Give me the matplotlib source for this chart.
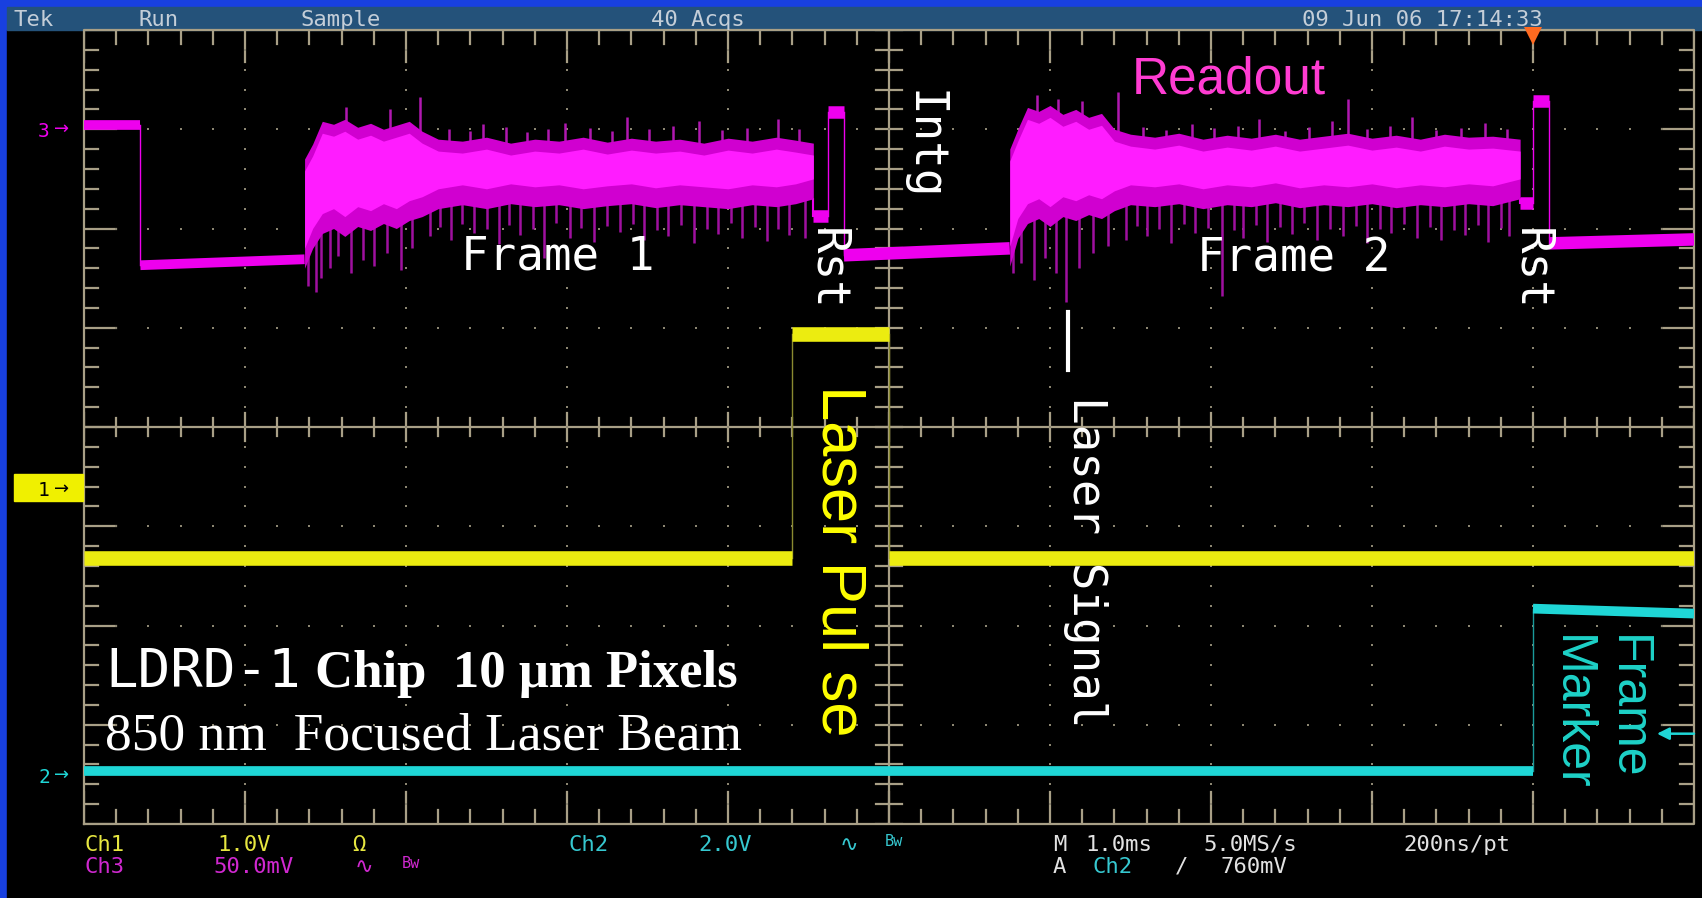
import matplotlib
matplotlib.use('Agg')
import matplotlib.pyplot as plt
from matplotlib.patches import Rectangle
from matplotlib.lines import Line2D

W, H = 1702, 898

# ---------------------------------------------------------------------------
# Trace data, in graticule divisions (x: 0..10, y: -4..4)

# Ch1 (yellow) - laser pulse
ch1_t = [0.0, 4.40, 4.40, 5.00, 5.00, 10.0]
ch1_v = [-1.32, -1.32, 0.94, 0.94, -1.32, -1.32]

# Ch2 (cyan) - frame marker
ch2_t = [0.0, 9.00, 9.00, 10.0]
ch2_v = [-3.47, -3.47, -1.83, -1.88]

# Ch3 (magenta) - readout, flat pieces
ch3_a_t = [0.0, 0.35, 0.35, 1.37]
ch3_a_v = [3.04, 3.04, 1.63, 1.69]
ch3_b_t = [4.53, 4.62, 4.62, 4.72, 4.72, 5.75]
ch3_b_v = [2.13, 2.13, 3.17, 3.17, 1.73, 1.80]
ch3_c_t = [8.92, 9.00, 9.00, 9.10, 9.10, 10.0]
ch3_c_v = [2.26, 2.26, 3.28, 3.28, 1.85, 1.89]

# Ch3 noisy readout band, frame 1 (envelope of 40 acquisitions)
band1_x = [1.37, 1.42, 1.48, 1.55, 1.62, 1.70, 1.78, 1.86, 1.94, 2.02, 2.10, 2.20, 2.35, 2.50,
           2.65, 2.80, 2.95, 3.10, 3.25, 3.40, 3.55, 3.70, 3.85, 4.00, 4.15, 4.30, 4.42, 4.53]
band1_hi = [2.70, 2.85, 3.08, 3.05, 3.10, 3.02, 3.06, 3.00, 3.04, 3.08, 2.98, 2.90, 2.88, 2.92,
            2.86, 2.90, 2.88, 2.92, 2.87, 2.91, 2.88, 2.90, 2.86, 2.91, 2.88, 2.92, 2.89, 2.86]
band1_lo = [1.60, 1.80, 1.95, 2.00, 1.92, 2.02, 1.98, 2.05, 2.00, 2.08, 2.12, 2.20, 2.24, 2.20,
            2.25, 2.22, 2.24, 2.20, 2.23, 2.25, 2.21, 2.24, 2.22, 2.20, 2.24, 2.22, 2.25, 2.30]
b1_dn_x = [1.39, 1.44, 1.47, 1.53, 1.58, 1.66, 1.73, 1.80, 1.88, 1.97, 2.04, 2.15, 2.28, 2.42,
           2.58, 2.71, 2.86, 3.02, 3.17, 3.33, 3.48, 3.63, 3.79, 3.94, 4.09, 4.24, 4.38, 4.48,
           2.21, 2.35, 2.50, 2.64, 2.79, 2.93, 3.09, 3.25, 3.41, 3.56, 3.71, 3.87, 4.02, 4.17, 4.31]
b1_dn_y = [1.42, 1.36, 1.50, 1.60, 1.72, 1.55, 1.68, 1.62, 1.75, 1.58, 1.80, 1.92, 1.88, 1.95,
           1.84, 1.93, 1.70, 1.90, 1.86, 1.96, 1.88, 1.92, 1.85, 1.94, 1.90, 1.87, 1.93, 1.90,
           2.02, 2.05, 1.99, 2.04, 2.00, 2.06, 2.01, 2.03, 2.05, 1.98, 2.04, 2.00, 2.06, 2.02, 2.00]
b1_up_x = [1.63, 1.90, 2.09, 2.48, 2.99, 3.37, 3.82, 4.31,
           2.27, 2.40, 2.62, 2.75, 2.88, 3.14, 3.28, 3.51, 3.66, 3.96, 4.12, 4.44]
b1_up_y = [3.22, 3.20, 3.32, 3.05, 3.06, 3.12, 3.08, 3.10,
           3.00, 2.98, 3.02, 2.97, 3.00, 3.01, 2.98, 3.00, 3.03, 2.99, 3.01, 3.00]

# Ch3 noisy readout band, frame 2
band2_x = [5.75, 5.80, 5.86, 5.93, 6.00, 6.08, 6.16, 6.24, 6.32, 6.40, 6.50, 6.65, 6.80, 6.95,
           7.10, 7.25, 7.40, 7.55, 7.70, 7.85, 8.00, 8.15, 8.30, 8.45, 8.60, 8.75, 8.92]
band2_hi = [2.80, 3.00, 3.22, 3.18, 3.24, 3.15, 3.20, 3.12, 3.16, 3.00, 2.95, 2.92, 2.96, 2.90,
            2.94, 2.91, 2.95, 2.90, 2.93, 2.96, 2.91, 2.94, 2.90, 2.95, 2.92, 2.93, 2.90]
band2_lo = [1.62, 1.90, 2.05, 2.10, 2.02, 2.12, 2.08, 2.14, 2.10, 2.18, 2.24, 2.22, 2.25, 2.20,
            2.24, 2.22, 2.26, 2.21, 2.24, 2.22, 2.25, 2.21, 2.24, 2.22, 2.25, 2.23, 2.30]
b2_dn_x = [5.77, 5.82, 5.90, 5.97, 6.04, 6.10, 6.18, 6.27, 6.36, 6.47, 6.60, 6.75, 6.90,
           7.07, 7.20, 7.35, 7.50, 7.66, 7.82, 7.97, 8.12, 8.28, 8.43, 8.58, 8.72, 8.85,
           6.54, 6.68, 6.83, 6.98, 7.14, 7.28, 7.43, 7.58, 7.74, 7.90, 8.05, 8.20, 8.36, 8.51, 8.66, 8.80]
b2_dn_y = [1.55, 1.65, 1.48, 1.70, 1.55, 1.26, 1.60, 1.75, 1.82, 1.88, 1.92, 1.85, 1.95,
           1.32, 1.90, 1.86, 1.94, 1.88, 1.92, 1.85, 1.95, 1.90, 1.88, 1.93, 1.86, 1.92,
           2.03, 2.00, 2.05, 2.01, 1.98, 2.04, 2.02, 2.06, 1.99, 2.03, 2.00, 2.05, 2.02, 1.98, 2.04, 2.01]
b2_up_x = [5.92, 6.05, 6.20, 6.42, 6.88, 7.30, 7.75, 7.85, 8.25, 8.70,
           6.58, 6.72, 7.02, 7.17, 7.46, 7.61, 7.97, 8.11, 8.40, 8.55, 8.84]
b2_up_y = [3.35, 3.30, 3.28, 3.38, 3.05, 3.10, 3.08, 3.30, 3.12, 3.06,
           3.02, 2.99, 3.01, 3.03, 2.98, 3.02, 3.00, 3.03, 2.99, 3.01, 3.00]

trigger_t = 9.0
trigger_level = -3.09

# status line texts
top_labels = ['Tek', 'Run', 'Sample', '40 Acqs', '09 Jun 06 17:14:33']
row1 = [('Ch1', 'y'), ('1.0V', 'y'), ('\u03a9', 'y'), ('Ch2', 'c'), ('2.0V', 'c'), ('\u223f', 'c'),
        ('Bw', 'c'), ('M', 'w'), ('1.0ms', 'w'), ('5.0MS/s', 'w'), ('200ns/pt', 'w')]
row2 = [('Ch3', 'm'), ('50.0mV', 'm'), ('\u223f', 'm'), ('Bw', 'm'), ('A', 'w'), ('Ch2', 'c'),
        ('/', 'w'), ('760mV', 'w')]

#--------------------------------------------------------------------------------------------------------

GRAT = '#a89f86'
YEL = '#ecec10'
CYA = '#1fd6d6'
MAG = '#ee00ee'
STAT = {'y': '#e6e640', 'c': '#36c8d0', 'm': '#d028d0', 'w': '#e2e2e2'}
MONO = ['DejaVu Sans Mono', 'DejaVu Sans', 'Noto Sans']

fig = plt.figure(figsize=(W / 100, H / 100), dpi=100)
fig.patch.set_facecolor('#1840e0')


def fx(x):
    return x / W


def fy(y):
    return 1 - y / H


# black screen and grey-blue status bar
fig.add_artist(Rectangle((fx(7), 0), 1, fy(30), transform=fig.transFigure,
                         color='black', zorder=-10))
fig.add_artist(Rectangle((fx(7), fy(30)), 1, 23 / H, transform=fig.transFigure,
                         color='#24527a', zorder=-10))

ax = fig.add_axes([fx(84), fy(824), fx(1694) - fx(84), fy(30) - fy(824)])
ax.set_xlim(0, 10)
ax.set_ylim(-4, 4)
ax.axis('off')

# graticule --------------------------------------------------------------
ax.plot([0, 10, 10, 0, 0], [-4, -4, 4, 4, -4], color=GRAT, lw=1.6, zorder=1, clip_on=False)
ax.axvline(5, color=GRAT, lw=1.6, zorder=1)
ax.axhline(0, color=GRAT, lw=1.6, zorder=1)
for i in range(51):
    x = i * 0.2
    ln = 0.32 if i % 5 == 0 else 0.14
    ax.plot([x, x], [4, 4 - ln], color=GRAT, lw=1.6, zorder=1)
    ax.plot([x, x], [-4, -4 + ln], color=GRAT, lw=1.6, zorder=1)
    c = 0.14 if i % 5 == 0 else 0.09
    ax.plot([x, x], [-c, c], color=GRAT, lw=1.6, zorder=1)
for j in range(41):
    y = -4 + j * 0.2
    ln = 0.2 if j % 5 == 0 else 0.09
    ax.plot([0, ln], [y, y], color=GRAT, lw=1.6, zorder=1)
    ax.plot([10, 10 - ln], [y, y], color=GRAT, lw=1.6, zorder=1)
    ax.plot([5 - 0.08, 5 + 0.08], [y, y], color=GRAT, lw=1.6, zorder=1)
dots_x, dots_y = [], []
for k in range(1, 10):
    if k == 5:
        continue
    for j in range(1, 40):
        dots_x.append(k)
        dots_y.append(-4 + j * 0.2)
for k in range(-3, 4):
    if k == 0:
        continue
    for i in range(1, 50):
        dots_x.append(i * 0.2)
        dots_y.append(k)
ax.plot(dots_x, dots_y, ls='none', marker='s', ms=2.0, color='#8c8672', mew=0, zorder=1)


# traces -----------------------------------------------------------------
def step_trace(t, v, color, lw, edge_lw=1.0, edge_color=None):
    for i in range(len(t) - 1):
        if t[i + 1] > t[i]:
            ax.plot(t[i:i + 2], v[i:i + 2], color=color, lw=lw, solid_capstyle='butt', zorder=3)
        else:
            ax.plot(t[i:i + 2], v[i:i + 2], color=edge_color or color, lw=edge_lw, zorder=2)


step_trace(ch1_t, ch1_v, YEL, 10.5, edge_color='#8a8a30')
step_trace(ch2_t, ch2_v, CYA, 7, edge_color='#1a9a9a')
step_trace(ch3_a_t, ch3_a_v, MAG, 7)
step_trace(ch3_b_t, ch3_b_v, MAG, 9)
step_trace(ch3_c_t, ch3_c_v, MAG, 9)
ax.plot([band1_x[-1], band1_x[-1]], [band1_lo[-1], ch3_b_v[0]], color=MAG, lw=1.5, zorder=2)
ax.plot([band2_x[-1], band2_x[-1]], [band2_lo[-1], ch3_c_v[0]], color=MAG, lw=1.5, zorder=2)

for bx, bhi, blo, dx, dy, ux, uy in [(band1_x, band1_hi, band1_lo, b1_dn_x, b1_dn_y, b1_up_x, b1_up_y),
                                     (band2_x, band2_hi, band2_lo, b2_dn_x, b2_dn_y, b2_up_x, b2_up_y)]:
    ax.vlines(dx, [2.3] * len(dx), dy, color='#a010a0', lw=1.8, zorder=2)
    ax.vlines(ux, [2.8] * len(ux), uy, color='#b018b0', lw=1.8, zorder=2)
    ax.fill_between(bx, blo, bhi, color='#d000d0', lw=0, zorder=3)
    ax.fill_between(bx, [v + 0.2 for v in blo], [v - 0.12 for v in bhi], color='#ff1cff', lw=0, zorder=3)

# trigger position marker and trigger level arrow
ax.plot(trigger_t, 3.94, marker='v', ms=13, color='#ff6a20', mew=0, clip_on=False, zorder=5)
ax.annotate('', xy=(9.77, trigger_level), xytext=(10.0, trigger_level),
            arrowprops=dict(arrowstyle='-|>', color=CYA, lw=1.8, mutation_scale=18,
                            shrinkA=0, shrinkB=0), zorder=5)

# channel ground markers ---------------------------------------------------
fig.text(fx(44), fy(137), '3', color=MAG, fontsize=14, family=MONO, ha='center', va='baseline')
fig.text(fx(54), fy(134), '\u2192', color=MAG, fontsize=13, ha='left', va='baseline')
fig.add_artist(Rectangle((fx(14), fy(501)), 69 / W, 27 / H, transform=fig.transFigure,
                         color='#f0f000', zorder=4))
fig.text(fx(44), fy(496), '1', color='black', fontsize=14, family=MONO, ha='center',
         va='baseline', zorder=5)
fig.text(fx(54), fy(494), '\u2192', color='black', fontsize=13, ha='left', va='baseline', zorder=5)
fig.text(fx(44), fy(783), '2', color=CYA, fontsize=14, family=MONO, ha='center', va='baseline')
fig.text(fx(54), fy(780), '\u2192', color=CYA, fontsize=13, ha='left', va='baseline')

# status bars --------------------------------------------------------------
for s, x in zip(top_labels, [13, 139, 300, 651, 1302]):
    fig.text(fx(x), fy(26), s, color='#c4ced8', fontsize=16, family=MONO, va='baseline')

row1_x = [85, 217, 352, 568, 698, 840, 885, 1053, 1085, 1203, 1403]
row2_x = [85, 213, 355, 402, 1053, 1092, 1175, 1220]
for (s, c), x in zip(row1, row1_x):
    small = s == 'Bw'
    fig.text(fx(x), fy(846 if small else 851), s, color=STAT[c], fontsize=11 if small else 16,
             family=MONO, va='baseline')
for (s, c), x in zip(row2, row2_x):
    small = s == 'Bw'
    fig.text(fx(x), fy(868 if small else 873), s, color=STAT[c], fontsize=11 if small else 16,
             family=MONO, va='baseline')

# annotations --------------------------------------------------------------
fig.text(fx(1132), fy(94), 'Readout', color='#ff3cd2', fontsize=37, family='Liberation Sans', va='baseline')
fig.text(fx(461), fy(269), 'Frame 1', color='white', fontsize=33, family=MONO, va='baseline')
fig.text(fx(1197), fy(271), 'Frame 2', color='white', fontsize=33, family=MONO, va='baseline')


def vtext(x, y, s, color, size, family):
    fig.text(fx(x), fy(y), s, color=color, fontsize=size, family=family, rotation=270,
             rotation_mode='anchor', ha='left', va='baseline', zorder=6)


vtext(910, 90, 'Intg', 'white', 33, MONO)
vtext(814, 228, 'Rst', 'white', 33, MONO)
vtext(1518, 228, 'Rst', 'white', 33, MONO)
vtext(1073, 396, 'Laser Signal', 'white', 33, MONO)
vtext(822, 385, 'Laser Pul se', '#ffff00', 45.5, 'Liberation Sans')
vtext(1614, 635, 'Frame', '#1ed2c8', 36, 'Liberation Sans')
vtext(1558, 635, 'Marker', '#1ed2c8', 36, 'Liberation Sans')
fig.add_artist(Line2D([fx(1068), fx(1068)], [fy(312), fy(370)], transform=fig.transFigure,
                      color='white', lw=3, zorder=6))

fig.text(fx(105), fy(687), 'LDRD-1', color='white', fontsize=39, family=MONO, va='baseline')
fig.text(fx(315), fy(687), 'Chip  10 \u03bcm Pixels', color='white', fontsize=38,
         family='Liberation Serif', weight='bold', va='baseline')
fig.text(fx(105), fy(749), '850 nm  Focused Laser Beam', color='white', fontsize=38.5,
         family='Liberation Serif', va='baseline')

fig.savefig('out.png', dpi=100, facecolor=fig.get_facecolor())
